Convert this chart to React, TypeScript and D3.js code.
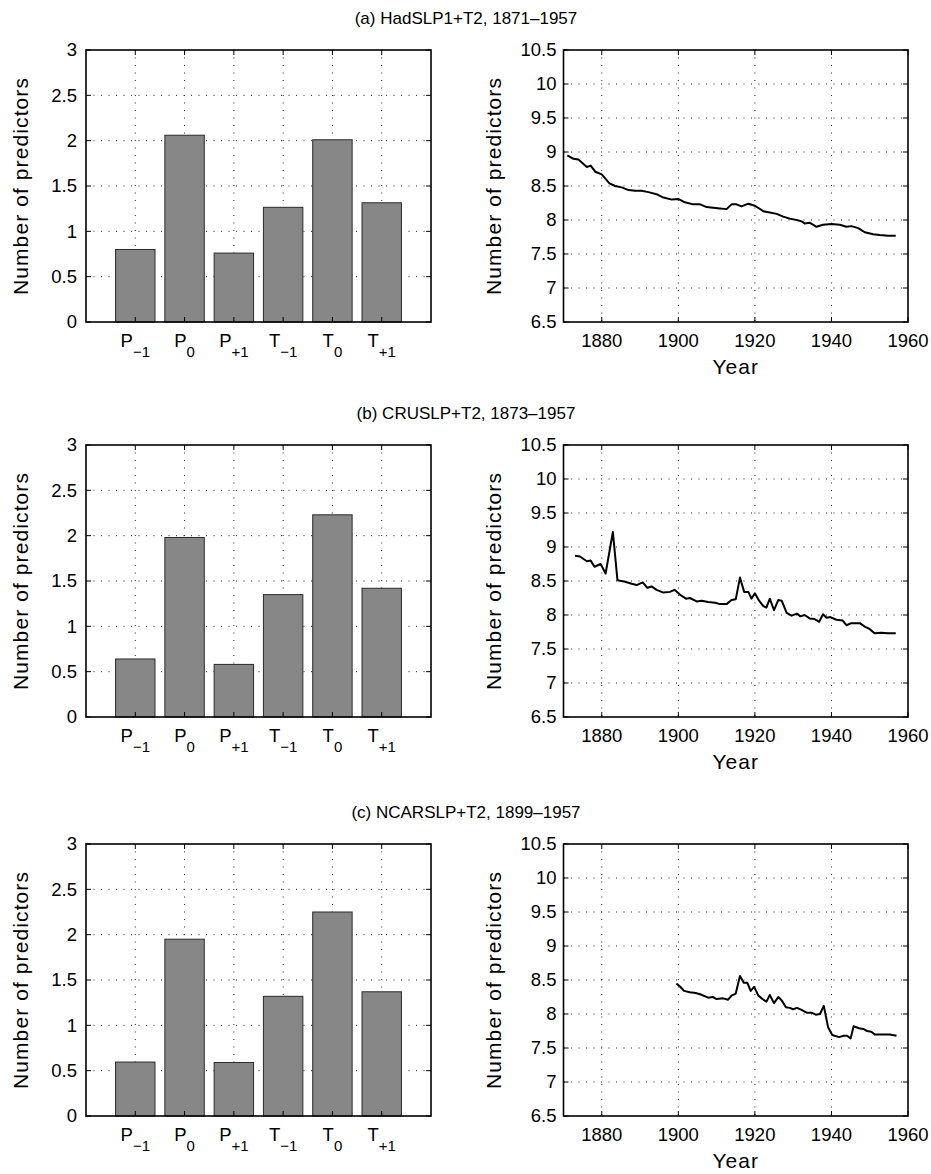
import React, { useRef, useEffect } from 'react';
import * as d3 from 'd3';

// panel titles
const panelTitles = [
  '(a) HadSLP1+T2, 1871\u20131957',
  '(b) CRUSLP+T2, 1873\u20131957',
  '(c) NCARSLP+T2, 1899\u20131957',
];

// bar categories (base letter + subscript)
const catBase = ['P', 'P', 'P', 'T', 'T', 'T'];
const catSub = ['\u22121', '0', '+1', '\u22121', '0', '+1'];

// bar values per panel
const hadBars = [0.8, 2.06, 0.76, 1.265, 2.01, 1.315];
const cruBars = [0.64, 1.98, 0.58, 1.35, 2.23, 1.42];
const ncarBars = [0.595, 1.95, 0.59, 1.32, 2.25, 1.37];

// tick values
const barTicks = [0, 0.5, 1, 1.5, 2, 2.5, 3];
const lineTicks = [6.5, 7, 7.5, 8, 8.5, 9, 9.5, 10, 10.5];
const yearTicks = [1880, 1900, 1920, 1940, 1960];

// line series: years and number of predictors
const hadYears = [1871, 1872.6, 1873.9, 1876.1, 1877.1, 1878.3, 1880, 1882, 1883.5, 1885.2, 1887, 1888.7, 1890.4, 1892.2, 1894.3, 1896.1, 1898.3, 1900, 1901.7, 1903.9, 1905.7, 1907.4, 1909.1, 1910.9, 1912.6, 1913.9, 1915.2, 1916.5, 1918.3, 1920, 1922.2, 1923.9, 1925.7, 1927.4, 1929.1, 1930.9, 1932.2, 1933, 1934.3, 1936.1, 1937.8, 1940, 1942.2, 1943.9, 1945.2, 1947, 1948.7, 1950.9, 1952.6, 1954.8, 1956.8];
const hadValues = [8.95, 8.9, 8.89, 8.78, 8.8, 8.71, 8.67, 8.54, 8.5, 8.48, 8.44, 8.43, 8.43, 8.41, 8.38, 8.33, 8.3, 8.31, 8.26, 8.23, 8.23, 8.19, 8.18, 8.17, 8.16, 8.23, 8.23, 8.2, 8.24, 8.21, 8.13, 8.11, 8.09, 8.05, 8.02, 8.0, 7.98, 7.95, 7.96, 7.9, 7.93, 7.94, 7.93, 7.9, 7.91, 7.88, 7.82, 7.79, 7.78, 7.77, 7.77];

const cruYears = [1873, 1874.3, 1876.1, 1877.1, 1878.1, 1879.7, 1881, 1882.9, 1884.1, 1886.1, 1887.8, 1889.1, 1890.7, 1891.9, 1893, 1894.3, 1896.1, 1897.8, 1899, 1900.4, 1902, 1903, 1904.8, 1906.1, 1907.8, 1909.6, 1910.9, 1912.6, 1913.9, 1915, 1916.1, 1917.2, 1918.3, 1919.1, 1920, 1921.1, 1922.2, 1923, 1923.9, 1925, 1926.1, 1927, 1928.3, 1929.6, 1931, 1931.9, 1933, 1934.3, 1935.6, 1936.8, 1937.8, 1938.7, 1939.7, 1941.3, 1942.9, 1943.9, 1945.2, 1947.4, 1948.7, 1949.8, 1951.3, 1953, 1954.8, 1956.8];
const cruValues = [8.87, 8.86, 8.79, 8.8, 8.71, 8.75, 8.61, 9.22, 8.51, 8.49, 8.46, 8.44, 8.48, 8.4, 8.42, 8.37, 8.33, 8.34, 8.37, 8.3, 8.24, 8.25, 8.2, 8.21, 8.19, 8.18, 8.16, 8.16, 8.22, 8.23, 8.55, 8.34, 8.34, 8.24, 8.32, 8.21, 8.13, 8.11, 8.24, 8.07, 8.22, 8.21, 8.03, 7.99, 8.02, 7.98, 8.0, 7.95, 7.94, 7.9, 8.01, 7.96, 7.97, 7.93, 7.92, 7.85, 7.88, 7.88, 7.83, 7.8, 7.73, 7.74, 7.73, 7.73];

const ncarYears = [1899.5, 1900.5, 1901.5, 1903, 1904.5, 1905.7, 1907.8, 1909, 1910, 1911.7, 1913, 1913.9, 1915, 1916.1, 1917.1, 1918, 1918.9, 1919.8, 1920.9, 1922, 1923, 1923.9, 1925, 1926.1, 1927, 1928.1, 1929.1, 1930, 1931, 1932.2, 1933.5, 1934.8, 1935.9, 1937, 1938, 1939.1, 1940.2, 1942, 1943.2, 1944.1, 1945, 1945.8, 1947.2, 1948.3, 1949.3, 1950.4, 1951.3, 1953.3, 1955.2, 1957];
const ncarValues = [8.45, 8.4, 8.34, 8.32, 8.31, 8.29, 8.24, 8.25, 8.22, 8.23, 8.21, 8.27, 8.3, 8.56, 8.46, 8.46, 8.34, 8.4, 8.27, 8.22, 8.18, 8.28, 8.16, 8.25, 8.2, 8.1, 8.09, 8.07, 8.09, 8.06, 8.02, 8.02, 7.99, 8.0, 8.12, 7.81, 7.69, 7.66, 7.68, 7.68, 7.64, 7.82, 7.79, 7.78, 7.75, 7.74, 7.7, 7.7, 7.7, 7.68];

const barSets = [hadBars, cruBars, ncarBars];
const lineSets = [
  { years: hadYears, values: hadValues },
  { years: cruYears, values: cruValues },
  { years: ncarYears, values: ncarValues },
];

const App = () => {
  const svgRef = useRef<SVGSVGElement>(null);

  useEffect(() => {
    const svg = d3.select(svgRef.current);
    svg.selectAll('*').remove();

    const font = 'Liberation Sans, Arial, Helvetica, sans-serif';
    const rowTops = [50, 445, 844];
    const plotH = 272;
    const barLeft = 86, barRight = 431;
    const lineLeft = 563.5, lineRight = 908;
    const tickLen = 5;

    const xBar = d3.scaleLinear().domain([0, 7]).range([barLeft, barRight]);
    const xYear = d3.scaleLinear().domain([1870, 1960]).range([lineLeft, lineRight]);

    const gridStyle = (sel: any) =>
      sel.attr('stroke', '#222').attr('stroke-width', 1).attr('stroke-dasharray', '1,6.5');

    rowTops.forEach((top, r) => {
      const bottom = top + plotH;
      const yBar = d3.scaleLinear().domain([0, 3]).range([bottom, top]);
      const yLine = d3.scaleLinear().domain([6.5, 10.5]).range([bottom, top]);

      // panel title
      svg.append('text')
        .attr('x', 466).attr('y', top - 26)
        .attr('text-anchor', 'middle')
        .attr('font-family', font).attr('font-size', 17)
        .text(panelTitles[r]);

      // ---------- bar chart ----------
      const gb = svg.append('g');
      // grid
      gb.selectAll('line.hg')
        .data(barTicks.slice(1, -1))
        .join('line')
        .attr('x1', barLeft).attr('x2', barRight)
        .attr('y1', d => yBar(d)).attr('y2', d => yBar(d))
        .call(gridStyle);
      gb.selectAll('line.vg')
        .data(catBase.map((_, i) => i + 1))
        .join('line')
        .attr('class', 'vg')
        .attr('x1', d => xBar(d)).attr('x2', d => xBar(d))
        .attr('y1', top).attr('y2', bottom)
        .call(gridStyle);

      // bars
      gb.selectAll('rect')
        .data(barSets[r])
        .join('rect')
        .attr('x', (d, i) => xBar(i + 1 - 0.4))
        .attr('width', xBar(0.8) - xBar(0))
        .attr('y', d => yBar(d))
        .attr('height', d => bottom - yBar(d))
        .attr('fill', '#878787')
        .attr('stroke', '#2a2a2a')
        .attr('stroke-width', 1);

      // ticks (inward, mirrored)
      barTicks.forEach(t => {
        const y = yBar(t);
        gb.append('line').attr('x1', barLeft).attr('x2', barLeft + tickLen).attr('y1', y).attr('y2', y).attr('stroke', '#000');
        gb.append('line').attr('x1', barRight).attr('x2', barRight - tickLen).attr('y1', y).attr('y2', y).attr('stroke', '#000');
        gb.append('text')
          .attr('x', barLeft - 9).attr('y', y).attr('dy', '0.35em')
          .attr('text-anchor', 'end')
          .attr('font-family', font).attr('font-size', 18.5)
          .text(String(t));
      });
      catBase.forEach((c, i) => {
        const x = xBar(i + 1);
        gb.append('line').attr('x1', x).attr('x2', x).attr('y1', bottom).attr('y2', bottom - tickLen).attr('stroke', '#000');
        gb.append('line').attr('x1', x).attr('x2', x).attr('y1', top).attr('y2', top + tickLen).attr('stroke', '#000');
        const t = gb.append('text')
          .attr('x', x).attr('y', bottom + 25)
          .attr('text-anchor', 'middle')
          .attr('font-family', font).attr('font-size', 18.5);
        t.append('tspan').text(c);
        t.append('tspan').attr('font-size', 15).attr('dy', 10).text(catSub[i]);
      });

      // box
      gb.append('rect')
        .attr('x', barLeft).attr('y', top)
        .attr('width', barRight - barLeft).attr('height', plotH)
        .attr('fill', 'none').attr('stroke', '#000').attr('stroke-width', 1.6);

      gb.append('text')
        .attr('transform', `translate(28,${(top + bottom) / 2}) rotate(-90)`)
        .attr('text-anchor', 'middle')
        .attr('font-family', font).attr('font-size', 21)
        .attr('letter-spacing', 1.1)
        .text('Number of predictors');

      // ---------- line chart ----------
      const gl = svg.append('g');
      gl.selectAll('line.hg')
        .data(lineTicks.slice(1, -1))
        .join('line')
        .attr('x1', lineLeft).attr('x2', lineRight)
        .attr('y1', d => yLine(d)).attr('y2', d => yLine(d))
        .call(gridStyle);
      gl.selectAll('line.vg')
        .data(yearTicks.slice(0, -1))
        .join('line')
        .attr('class', 'vg')
        .attr('x1', d => xYear(d)).attr('x2', d => xYear(d))
        .attr('y1', top).attr('y2', bottom)
        .call(gridStyle);

      lineTicks.forEach(t => {
        const y = yLine(t);
        gl.append('line').attr('x1', lineLeft).attr('x2', lineLeft + tickLen).attr('y1', y).attr('y2', y).attr('stroke', '#000');
        gl.append('line').attr('x1', lineRight).attr('x2', lineRight - tickLen).attr('y1', y).attr('y2', y).attr('stroke', '#000');
        gl.append('text')
          .attr('x', lineLeft - 7).attr('y', y).attr('dy', '0.35em')
          .attr('text-anchor', 'end')
          .attr('font-family', font).attr('font-size', 18.5)
          .text(String(t));
      });
      yearTicks.forEach(t => {
        const x = xYear(t);
        gl.append('line').attr('x1', x).attr('x2', x).attr('y1', bottom).attr('y2', bottom - tickLen).attr('stroke', '#000');
        gl.append('line').attr('x1', x).attr('x2', x).attr('y1', top).attr('y2', top + tickLen).attr('stroke', '#000');
        gl.append('text')
          .attr('x', x).attr('y', bottom + 25)
          .attr('text-anchor', 'middle')
          .attr('font-family', font).attr('font-size', 18.5)
          .text(String(t));
      });

      const series = lineSets[r];
      const pts = series.years.map((yr, i) => [yr, series.values[i]] as [number, number]);
      const line = d3.line<[number, number]>()
        .x(d => xYear(d[0]))
        .y(d => yLine(d[1]));
      gl.append('path')
        .attr('d', line(pts))
        .attr('fill', 'none')
        .attr('stroke', '#000')
        .attr('stroke-width', 2)
        .attr('stroke-linejoin', 'round');

      gl.append('rect')
        .attr('x', lineLeft).attr('y', top)
        .attr('width', lineRight - lineLeft).attr('height', plotH)
        .attr('fill', 'none').attr('stroke', '#000').attr('stroke-width', 1.6);

      gl.append('text')
        .attr('transform', `translate(501,${(top + bottom) / 2}) rotate(-90)`)
        .attr('text-anchor', 'middle')
        .attr('font-family', font).attr('font-size', 21)
        .attr('letter-spacing', 1.1)
        .text('Number of predictors');

      gl.append('text')
        .attr('x', (lineLeft + lineRight) / 2).attr('y', bottom + 52)
        .attr('text-anchor', 'middle')
        .attr('font-family', font).attr('font-size', 21)
        .attr('letter-spacing', 1)
        .text('Year');
    });
  }, []);

  return (
    <svg
      ref={svgRef}
      width={931}
      height={1174}
      style={{ position: 'absolute', left: 0, top: 0, background: '#fff' }}
    />
  );
};

export default App;
